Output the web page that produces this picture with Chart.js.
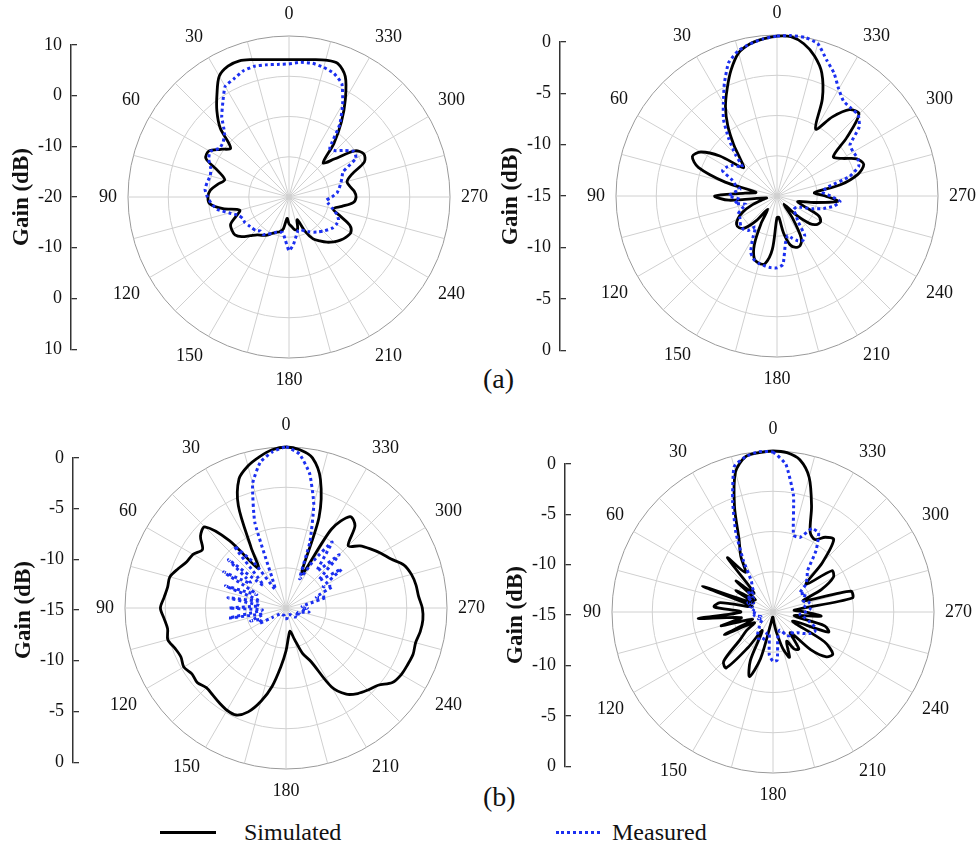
<!DOCTYPE html>
<html lang="en">
<head>
<meta charset="UTF-8">
<title>Radiation patterns</title>
<script src="https://cdn.jsdelivr.net/npm/chart.js"></script>
<style>
  body { margin: 0; background: #fff; font-family: "Liberation Serif", "Times New Roman", serif; }
  #page { position: relative; width: 977px; height: 848px; overflow: hidden; }
  canvas { position: absolute; }
  .tag { position: absolute; font-size: 28px; color: #111; line-height: 30px; }
  .legend { position: absolute; font-size: 24px; color: #111; line-height: 26px; }
  .swatch { position: absolute; }
</style>
</head>
<body>
<div id="page">
  <div class="tag" style="left:483px; top:364px;">(a)</div>
  <div class="tag" style="left:483px; top:782px;">(b)</div>
  <div class="swatch" style="left:160px; top:831px; width:56px; height:3px; background:#000;"></div>
  <div class="legend" style="left:244px; top:819px;">Simulated</div>
  <div class="swatch" style="left:556px; top:831px; width:44px; border-top:3px dotted #1b2ff0;"></div>
  <div class="legend" style="left:612px; top:819px;">Measured</div>
</div>
<script>
// angles in degrees, counted counter-clockwise from the top
const ANGLES = [0, 5, 10, 15, 20, 25, 30, 35, 40, 45, 50, 55,
  60, 65, 70, 75, 80, 85, 90, 95, 100, 105, 110, 115,
  120, 125, 130, 135, 140, 145, 150, 155, 160, 165, 170, 175,
  180, 185, 190, 195, 200, 205, 210, 215, 220, 225, 230, 235,
  240, 245, 250, 255, 260, 265, 270, 275, 280, 285, 290, 295,
  300, 305, 310, 315, 320, 325, 330, 335, 340, 345, 350, 355];

// (a) left
const SIM_A1 = [5.6, 5.7, 6.0, 6.5, 7.0, 6.9, 6.0, 3.4, 0.9, -1.9, -5.8, -4.5,
  -2.8, -2.9, -6.0, -7.6, -6.5, -5.3, -4.9, -5.2, -7.5, -10.5, -9.5, -8.0,
  -7.7, -7.7, -8.5, -9.8, -10.8, -11.3, -11.8, -12.5, -13.0, -13.3, -14.0, -16.0,
  -15.0, -14.5, -13.8, -13.8, -15.5, -13.0, -11.0, -10.0, -9.0, -8.2, -7.5, -7.0,
  -6.7, -7.5, -10.0, -11.5, -10.0, -8.0, -7.5, -7.8, -8.5, -8.8, -7.5, -4.5,
  -3.9, -5.0, -9.0, -11.0, -7.0, -3.0, 1.0, 4.8, 6.5, 6.4, 6.0, 5.7];
const MEAS_A1 = [4.8, 4.8, 5.0, 5.2, 5.0, 4.3, 3.8, 1.5, -0.5, -3.0, -4.0, -4.2,
  -3.0, -3.5, -4.5, -4.8, -4.5, -4.3, -4.8, -5.5, -6.5, -8.5, -10.0, -10.5,
  -10.5, -10.8, -11.0, -11.2, -11.7, -11.5, -12.0, -12.5, -13.0, -13.2, -13.3, -12.0,
  -10.0, -11.0, -12.5, -13.5, -13.5, -13.0, -12.5, -12.0, -11.5, -11.0, -10.5, -10.0,
  -9.8, -9.8, -10.5, -11.6, -12.5, -13.0, -12.0, -11.0, -10.5, -10.0, -9.5, -8.9,
  -5.6, -5.2, -6.5, -7.8, -8.2, -3.5, 0.0, 3.3, 4.5, 5.0, 5.3, 5.2];

// (a) right
const SIM_A2 = [-0.1, -0.3, -0.6, -1.2, -2.5, -4.0, -5.4, -7.0, -8.7, -10.2, -10.9, -8.5,
  -6.8, -6.3, -7.2, -10.0, -13.0, -12.0, -9.2, -10.5, -14.0, -13.5, -12.5, -11.5,
  -10.8, -10.4, -10.4, -10.8, -12.0, -13.5, -12.0, -10.0, -8.8, -8.5, -8.6, -10.0,
  -13.0, -13.0, -11.5, -10.3, -9.9, -9.9, -10.5, -12.5, -14.0, -12.5, -11.0, -10.4,
  -10.3, -10.8, -12.5, -13.0, -11.5, -9.3, -10.5, -11.5, -9.0, -7.2, -6.4, -6.8,
  -8.0, -8.6, -6.5, -4.2, -4.5, -6.0, -7.8, -5.0, -2.8, -1.5, -0.6, -0.1];
const MEAS_A2 = [-0.1, -0.3, -0.6, -1.0, -1.8, -3.4, -5.0, -6.3, -8.0, -9.5, -10.8, -10.0,
  -9.6, -9.4, -10.5, -11.0, -11.5, -11.0, -10.5, -11.5, -11.0, -12.0, -11.5, -11.0,
  -11.0, -10.8, -10.6, -10.6, -10.8, -11.5, -10.5, -9.2, -8.7, -8.5, -8.4, -8.3,
  -8.3, -8.6, -10.5, -11.2, -10.8, -10.4, -10.2, -10.5, -12.0, -12.5, -13.0, -13.0,
  -12.9, -12.5, -11.5, -10.5, -9.6, -9.1, -10.0, -10.8, -10.2, -8.0, -6.9, -6.7,
  -6.8, -6.7, -5.0, -4.3, -4.3, -4.2, -3.5, -2.4, -1.5, -0.3, 0.0, 0.0];

// (b) left
const SIM_B1 = [0.0, -0.2, -0.7, -1.3, -2.2, -4.5, -8.5, -10.5, -6.8, -4.3, -4.6, -5.5,
  -5.0, -4.8, -4.3, -3.8, -3.8, -3.6, -3.3, -3.6, -3.8, -3.6, -4.0, -4.2,
  -4.0, -4.3, -4.2, -4.5, -4.4, -4.2, -4.0, -4.0, -4.7, -6.0, -7.6, -9.5,
  -11.0, -12.3, -12.8, -12.0, -10.5, -9.5, -6.5, -5.2, -4.6, -4.2, -3.8, -2.9,
  -2.6, -2.5, -2.4, -2.5, -2.3, -2.2, -2.3, -2.6, -2.7, -2.9, -3.3, -4.2,
  -4.8, -5.4, -6.0, -6.8, -5.0, -4.6, -6.5, -11.5, -6.0, -2.6, -0.8, -0.2];
const MEAS_B1 = [0.0, -0.4, -1.2, -3.0, -6.5, -12.0, -13.0, -10.0, -7.5, -12.0, -8.0, -11.0,
  -8.3, -12.0, -9.0, -12.5, -9.5, -12.5, -9.7, -12.8, -9.6, -12.8, -11.5, -12.5,
  -12.1, -13.5, -14.0, -14.2, -14.3, -14.3, -14.3, -14.3, -14.3, -14.3, -14.2, -14.0,
  -14.0, -14.0, -14.2, -14.3, -14.3, -14.3, -14.3, -14.2, -14.0, -13.8, -13.8, -14.0,
  -14.0, -13.5, -13.8, -13.5, -12.8, -13.5, -13.0, -13.5, -13.0, -11.1, -12.0, -10.2,
  -11.0, -8.7, -11.0, -8.0, -10.5, -7.5, -10.0, -12.0, -8.5, -5.0, -2.3, -0.6];

// (b) right
const SIM_B2 = [0.0, -0.1, -0.3, -1.5, -4.5, -7.5, -9.0, -10.5, -8.4, -12.5, -10.5, -13.0,
  -11.0, -13.0, -8.0, -13.0, -10.0, -9.5, -12.0, -8.0, -12.0, -10.0, -13.0, -10.0,
  -13.0, -12.0, -11.0, -8.5, -8.2, -11.0, -13.0, -10.0, -8.6, -10.5, -14.0, -14.5,
  -14.5, -14.0, -13.0, -11.5, -10.5, -12.0, -11.0, -10.8, -12.5, -10.0, -8.5, -8.2,
  -9.5, -13.0, -9.5, -10.0, -13.0, -10.5, -12.0, -13.0, -7.5, -7.5, -12.0, -10.0,
  -8.5, -8.3, -11.0, -8.5, -6.2, -6.5, -7.2, -6.8, -4.5, -2.0, -0.6, -0.1];
const MEAS_B2 = [-0.1, 0.0, -0.3, -1.0, -4.0, -6.8, -9.5, -11.5, -12.0, -12.5, -12.0, -12.8,
  -12.2, -13.0, -12.5, -13.0, -12.8, -13.2, -13.0, -13.5, -13.2, -13.5, -13.8, -13.5,
  -13.8, -13.8, -13.5, -13.2, -13.0, -12.5, -12.2, -12.2, -12.2, -13.0, -13.0, -11.0,
  -10.4, -10.5, -12.5, -13.0, -13.2, -13.0, -12.5, -12.3, -12.5, -12.2, -12.0, -11.5,
  -11.0, -10.7, -10.8, -11.5, -12.0, -12.5, -12.0, -11.5, -12.0, -11.5, -12.0, -11.8,
  -11.5, -12.0, -11.0, -10.5, -10.0, -8.0, -6.5, -6.4, -7.6, -7.6, -4.0, -1.2];

// left axis tick labels, bottom to top
const TICKS_A1 = ['10', '0', '-10', '-20', '-10', '0', '10'];
const TICKS_15 = ['0', '-5', '-10', '-15', '-10', '-5', '0'];

const SERIF = '"Liberation Serif", "Times New Roman", serif';
const BLUE = '#1b2ff0';

const panels = [
  { sim: SIM_A1, meas: MEAS_A1, min: -20, max: 10, ticks: TICKS_A1, cx: 288, cy: 198, axisX: 71, axisTop: 37, axisBottom: 357 },
  { sim: SIM_A2, meas: MEAS_A2, min: -15, max: 0, ticks: TICKS_15, cx: 776, cy: 197, axisX: 560, axisTop: 34, axisBottom: 358 },
  { sim: SIM_B1, meas: MEAS_B1, min: -15, max: 0, ticks: TICKS_15, cx: 285, cy: 609, axisX: 73, axisTop: 450, axisBottom: 770 },
  { sim: SIM_B2, meas: MEAS_B2, min: -15, max: 0, ticks: TICKS_15, cx: 772, cy: 613, axisX: 565, axisTop: 456, axisBottom: 774 }
];

// radar charts run clockwise, the plots run counter-clockwise
function clockwise(arr) {
  return arr.map((_, i) => arr[(arr.length - i) % arr.length]);
}

function addCanvas(left, top, w, h) {
  const c = document.createElement('canvas');
  c.width = w; c.height = h;
  c.style.left = left + 'px'; c.style.top = top + 'px';
  document.getElementById('page').appendChild(c);
  return c;
}

function drawPolar(p) {
  const size = 398;
  const canvas = addCanvas(p.cx - 193, p.cy - 199, size, size);
  new Chart(canvas, {
    type: 'radar',
    data: {
      labels: clockwise(ANGLES).map(String),
      datasets: [
        { label: 'Measured', data: clockwise(p.meas), borderColor: BLUE, borderWidth: 3,
          borderDash: [3, 3], pointRadius: 0, fill: false, tension: 0.15 },
        { label: 'Simulated', data: clockwise(p.sim), borderColor: '#000', borderWidth: 2.8,
          pointRadius: 0, fill: false, tension: 0.3 }
      ]
    },
    options: {
      responsive: false, animation: false, events: [],
      plugins: { legend: { display: false }, tooltip: { enabled: false } },
      scales: {
        r: {
          min: p.min, max: p.max,
          ticks: { display: false, stepSize: (p.max - p.min) / 4 },
          grid: { circular: true, lineWidth: 1,
            color: c => c.index === 0 ? 'rgba(0,0,0,0)' : (c.index === 4 ? '#9a9a9a' : '#d0d0d0') },
          angleLines: { lineWidth: 1, color: c => c.index % 3 === 0 ? '#d0d0d0' : 'rgba(0,0,0,0)' },
          pointLabels: { font: { family: SERIF, size: 18 }, color: '#111', padding: 11,
            callback: l => Number(l) % 30 === 0 ? l : '' }
        }
      }
    }
  });
}

function drawAxis(p) {
  const pad = 12;
  const canvas = addCanvas(p.axisX - 71, p.axisTop - pad, 77, p.axisBottom - p.axisTop + 2 * pad);
  new Chart(canvas, {
    type: 'scatter',
    data: { datasets: [] },
    options: {
      responsive: false, animation: false, events: [],
      layout: { padding: { top: pad, bottom: pad, left: 0, right: 0 } },
      plugins: { legend: { display: false }, tooltip: { enabled: false } },
      scales: {
        x: { display: false, min: 0, max: 1 },
        y: {
          min: -3, max: 3,
          afterFit: s => { s.width = 71; },
          ticks: { stepSize: 1, padding: 9, color: '#111', font: { family: SERIF, size: 18 },
            callback: (v, i) => p.ticks[i] },
          grid: { drawOnChartArea: true, drawTicks: false, color: '#333', lineWidth: 1.3 },
          border: { display: true, color: '#333', width: 1.5 },
          title: { display: true, text: 'Gain (dB)', color: '#111', padding: { top: 8, bottom: 0 },
            font: { family: SERIF, size: 23, weight: 'bold' } }
        }
      }
    }
  });
}

panels.forEach(p => { drawAxis(p); drawPolar(p); });
</script>
</body>
</html>
